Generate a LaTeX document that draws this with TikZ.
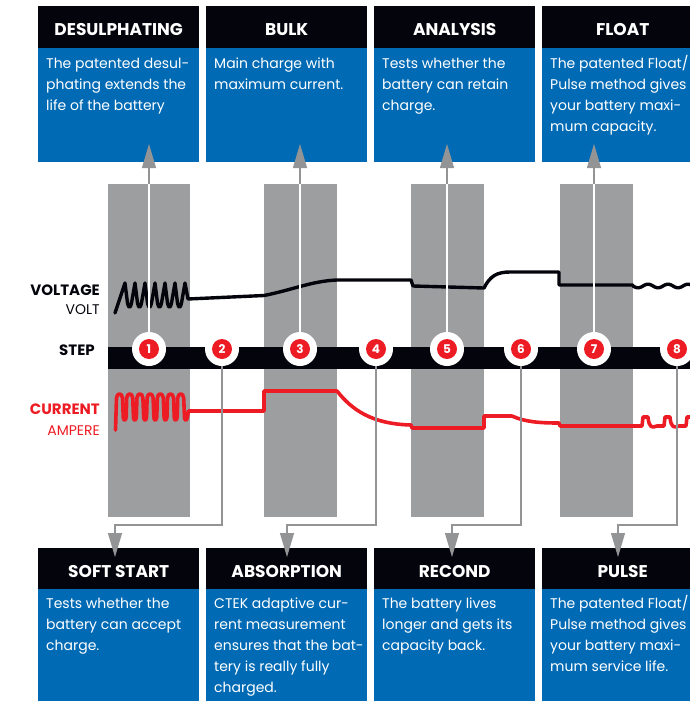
\documentclass[tikz,border=0pt]{standalone}
\usepackage{fontspec}
\setmainfont{Poppins}
\usetikzlibrary{arrows.meta,calc}
\definecolor{ctblue}{HTML}{006AB4}
\definecolor{ctblack}{HTML}{04040C}
\definecolor{ctgray}{HTML}{9D9EA0}
\definecolor{ctline}{HTML}{939496}
\definecolor{ctred}{HTML}{ED1C24}
\newcommand{\firstln}{\rule{0pt}{13pt}}
\begin{document}
\begin{tikzpicture}[x=1pt,y=-1pt,
  hdr/.style={fill=ctblack, text=white, font=\bfseries\fontsize{17}{17}\selectfont,
    minimum width=161pt, minimum height=42pt, inner sep=0pt, anchor=north west,
    text height=17pt, text depth=0pt},
  bodybox/.style={fill=ctblue, minimum width=161pt, minimum height=114pt,
    inner sep=0pt, anchor=north west},
  bodytext/.style={text=white, font=\fontsize{14}{21}\selectfont, align=left,
    inner sep=0pt, anchor=north west},
  band/.style={fill=ctgray, draw=none},
  stepc/.style={circle, fill=white, minimum size=34pt, inner sep=0pt,
    text=white, font=\bfseries\fontsize{12}{12}\selectfont,
    path picture={\fill[ctred] (path picture bounding box.center) circle (10pt);}},
  conn/.style={draw=ctline, line width=1.1pt, -{Triangle[width=14pt,length=24pt]}},
  volt/.style={draw=ctblack, line width=3.4pt, line join=round, line cap=round},
  curr/.style={draw=ctred, line width=3.6pt, line join=round, line cap=round},
  lab/.style={anchor=base east, inner sep=0pt}
]
\useasboundingbox (0,0) rectangle (690,701);
\clip (0,0) rectangle (690,701);

% top boxes
\node[hdr] (h1) at (38,6) {DESULPHATING};
\node[hdr] (h2) at (206,6) {BULK};
\node[hdr] (h3) at (374,6) {ANALYSIS};
\node[hdr] (h4) at (542,6) {FLOAT};
\node[bodybox] (b1) at (38,48) {};
\node[bodybox] (b2) at (206,48) {};
\node[bodybox] (b3) at (374,48) {};
\node[bodybox] (b4) at (542,48) {};
\node[bodytext] (t1) at (46,55.5) {\firstln The patented desul-\\phating extends the\\life of the battery};
\node[bodytext] (t2) at (214,55.5) {\firstln Main charge with\\maximum current.};
\node[bodytext] (t3) at (382,55.5) {\firstln Tests whether the\\battery can retain\\charge.};
\node[bodytext] (t4) at (550,55.5) {\firstln The patented Float/\\Pulse method gives\\your battery maxi-\\mum capacity.};

% bottom boxes
\node[hdr] (h5) at (38,548) {SOFT START};
\node[hdr] (h6) at (206,548) {ABSORPTION};
\node[hdr] (h7) at (374,548) {RECOND};
\node[hdr] (h8) at (542,548) {PULSE};
\node[bodybox] (b5) at (38,589) {};
\node[bodybox] (b6) at (206,589) {};
\node[bodybox] (b7) at (374,589) {};
\node[bodybox] (b8) at (542,589) {};
\node[bodytext] (t5) at (46,595.5) {\firstln Tests whether the\\battery can accept\\charge.};
\node[bodytext] (t6) at (214,595.5) {\firstln CTEK adaptive cur-\\rent measurement\\ensures that the bat-\\tery is really fully\\charged.};
\node[bodytext] (t7) at (382,595.5) {\firstln The battery lives\\longer and gets its\\capacity back.};
\node[bodytext] (t8) at (550,595.5) {\firstln The patented Float/\\Pulse method gives\\your battery maxi-\\mum service life.};

% gray bands
\path[band] (108,184) rectangle (190,517);
\path[band] (264,184) rectangle (337,517);
\path[band] (411,184) rectangle (484,517);
\path[band] (560,184) rectangle (633,517);

% labels
\node[lab, font=\bfseries\fontsize{15}{15}\selectfont, text=ctblack] (lv) at (100,295) {VOLTAGE};
\node[lab, font=\fontsize{14}{14}\selectfont, text=ctblack] (lvu) at (100,314) {VOLT};
\node[lab, font=\bfseries\fontsize{15}{15}\selectfont, text=ctblack] (ls) at (95,355) {STEP};
\node[lab, font=\bfseries\fontsize{15}{15}\selectfont, text=ctred] (lc) at (100,414) {CURRENT};
\node[lab, font=\fontsize{14}{14}\selectfont, text=ctred] (lcu) at (100,435) {AMPERE};

% voltage curve
\draw[volt] (115,313) -- (125,283)
  \foreach \i in {0,...,5} {
    -- ({125+10*\i+2.5},303) .. controls ({125+10*\i+3.5},308.5) and ({125+10*\i+5.5},308.5) .. ({125+10*\i+6.5},303)
    -- ({125+10*\i+10},283) }
  -- (188,299) -- (264,295.5) .. controls (292,290) and (312,281) .. (337,280)
  -- (411,280) -- (413,286) -- (484,288) .. controls (490,276) and (497,272) .. (510,272)
  -- (559,272) -- (559,285) -- (633,285)
  -- plot[domain=633:694, samples=70, variable=\u] (\u, {286+1.8*sin((\u-633)*18)});

% current curve
\draw[curr] (115.5,430)
  \foreach \i in {0,...,6} {
    -- ({116+10.2*\i+0.5},398) .. controls ({116+10.2*\i+1},392.5) and ({116+10.2*\i+6},392.5) .. ({116+10.2*\i+6.5},398)
    -- ({116+10.2*\i+7.3},418) .. controls ({116+10.2*\i+8},421) and ({116+10.2*\i+9.5},421) .. ({116+10.2*\i+10.2},417) }
  -- (188.5,411) -- (264,411) -- (264,391) -- (337,391)
  .. controls (352,410) and (372,424) .. (411,425) -- (412,428) -- (484,428)
  -- (484,416) -- (512,416) .. controls (525,422) and (540,423) .. (559,423)
  -- (560,426) -- (642,426) -- (643,417) -- (648,417)
  .. controls (649,428) and (652,428) .. (657,426) -- (664,426) -- (665,417) -- (670,417)
  .. controls (671,428) and (674,428) .. (679,426) -- (686,426) -- (687,417) -- (694,417);

% step bar
\fill[ctblack] (108,347) rectangle (694,369);

% arrow targets
\coordinate (a1) at (149,144);
\coordinate (a3) at (300,144);
\coordinate (a5) at (447,144);
\coordinate (a7) at (594,144);
\coordinate (k2) at (115,525);
\coordinate (k4) at (287,525);
\coordinate (k6) at (452,525);
\coordinate (k8) at (618,525);
\coordinate (a2) at (115,557);
\coordinate (a4) at (287,557);
\coordinate (a6) at (452,557);
\coordinate (a8) at (618,557);

% step circle positions
\coordinate (p1) at (149,349);
\coordinate (p2) at (222,349);
\coordinate (p3) at (300,349);
\coordinate (p4) at (376,349);
\coordinate (p5) at (447,349);
\coordinate (p6) at (521,349);
\coordinate (p7) at (594,349);
\coordinate (p8) at (677,349);

% top connectors
\draw[conn] (p1) -- (a1);
\draw[conn] (p3) -- (a3);
\draw[conn] (p5) -- (a5);
\draw[conn] (p7) -- (a7);
\draw[white, line width=1.1pt] (p1) -- (p1 |- 0,184);
\draw[white, line width=1.1pt] (p3) -- (p3 |- 0,184);
\draw[white, line width=1.1pt] (p5) -- (p5 |- 0,184);
\draw[white, line width=1.1pt] (p7) -- (p7 |- 0,184);

% bottom connectors
\draw[conn] (p2) |- (k2) -- (a2);
\draw[conn] (p4) |- (k4) -- (a4);
\draw[conn] (p6) |- (k6) -- (a6);
\draw[conn] (p8) |- (k8) -- (a8);

% step circles
\node[stepc] (c1) at (p1) {1};
\node[stepc] (c2) at (p2) {2};
\node[stepc] (c3) at (p3) {3};
\node[stepc] (c4) at (p4) {4};
\node[stepc] (c5) at (p5) {5};
\node[stepc] (c6) at (p6) {6};
\node[stepc] (c7) at (p7) {7};
\node[stepc] (c8) at (p8) {8};
\end{tikzpicture}
\end{document}
